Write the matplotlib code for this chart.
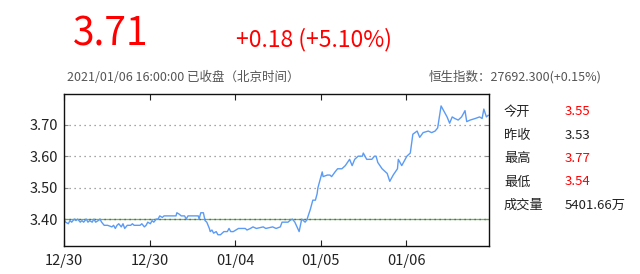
import numpy as np
import matplotlib
matplotlib.use('Agg')
import matplotlib.pyplot as plt

plt.rcParams['font.family'] = ['Noto Sans CJK SC', 'DejaVu Sans']

# price trace (t: 100 per trading day tick)
t = [0, 2, 5, 7, 9, 12, 14, 16, 19, 21, 23, 26, 28, 30, 33, 35, 37, 40, 42, 44,
     47, 51, 56, 58, 60, 62, 64, 67, 69, 71, 74, 78, 80, 82, 86, 89, 91, 94, 96, 98,
     101, 103, 105, 108, 110, 112, 115, 117, 131, 132, 135, 137, 141, 143, 145, 157, 158, 160, 163, 165,
     167, 170, 171, 173, 175, 178, 180, 183, 185, 187, 191, 193, 195, 198, 201, 204, 212, 214, 218, 221,
     225, 233, 236, 244, 248, 253, 255, 262, 264, 267, 270, 275, 278, 282, 284, 288, 291, 294, 296, 297,
     299, 302, 303, 308, 311, 313, 317, 320, 325, 329, 334, 337, 340, 344, 349, 350, 354, 360, 363, 365,
     367, 372, 378, 381, 385, 390, 391, 395, 401, 405, 408, 413, 416, 420, 426, 430, 434, 437, 441, 443,
     448, 451, 454, 457, 461, 465, 469, 471, 475, 481, 486, 489, 491, 494, 496]
price = [3.397, 3.39, 3.385, 3.395, 3.39, 3.40, 3.395, 3.40, 3.39, 3.395, 3.39, 3.40, 3.39, 3.395, 3.39, 3.40, 3.39, 3.395, 3.40, 3.39,
         3.38, 3.38, 3.375, 3.38, 3.37, 3.38, 3.385, 3.375, 3.385, 3.37, 3.38, 3.38, 3.385, 3.38, 3.38, 3.38, 3.385, 3.375, 3.38, 3.39,
         3.385, 3.395, 3.39, 3.40, 3.40, 3.41, 3.405, 3.41, 3.41, 3.42, 3.415, 3.41, 3.41, 3.40, 3.41, 3.41, 3.40, 3.42, 3.42, 3.395,
         3.39, 3.37, 3.36, 3.365, 3.355, 3.36, 3.35, 3.35, 3.355, 3.36, 3.36, 3.37, 3.36, 3.36, 3.365, 3.37, 3.37, 3.365, 3.37, 3.375,
         3.37, 3.375, 3.37, 3.375, 3.37, 3.375, 3.39, 3.39, 3.395, 3.40, 3.39, 3.36, 3.40, 3.39, 3.397, 3.43, 3.46, 3.46, 3.48, 3.50,
         3.52, 3.55, 3.535, 3.54, 3.54, 3.535, 3.55, 3.56, 3.56, 3.57, 3.59, 3.57, 3.59, 3.60, 3.60, 3.61, 3.59, 3.59, 3.60, 3.60,
         3.58, 3.56, 3.545, 3.52, 3.54, 3.56, 3.59, 3.57, 3.60, 3.61, 3.67, 3.68, 3.66, 3.675, 3.68, 3.675, 3.68, 3.69, 3.76, 3.75,
         3.725, 3.705, 3.725, 3.72, 3.715, 3.725, 3.745, 3.71, 3.715, 3.72, 3.725, 3.72, 3.75, 3.725, 3.73]

tick_pos = [0, 100, 200, 300, 400]
tick_labels = ['12/30', '12/30', '01/04', '01/05', '01/06']
y_ticks = [3.40, 3.50, 3.60, 3.70]
base_line = 3.40

stat_names = ['今开', '昨收', '最高', '最低', '成交量']
stat_values = ['3.55', '3.53', '3.77', '3.54', '5401.66万']
stat_colors = ['#ff0000', '#222222', '#ff0000', '#ff0000', '#222222']

fig = plt.figure(figsize=(6.4, 2.74), dpi=100)
ax = fig.add_axes([0.1, 0.102, 0.664, 0.555])

for y in y_ticks:
    ax.axhline(y, color='#888888', linestyle=(0, (1, 3)), linewidth=0.9, zorder=1)
ax.axhline(base_line, color='#66bb55', linewidth=0.9, zorder=1)
ax.axhline(base_line, color='#555555', linestyle=(0, (1, 3)), linewidth=0.9, zorder=1)
ax.plot(t, price, color='#5b9bf5', linewidth=1.0, zorder=2)

ax.set_xlim(0, 497)
ax.set_ylim(3.314, 3.798)
ax.set_xticks(tick_pos)
ax.set_xticklabels(tick_labels)
ax.set_yticks(y_ticks)
ax.set_yticklabels(['%.2f' % v for v in y_ticks])
ax.tick_params(axis='x', direction='in', length=4, top=True, labelsize=10.5, pad=6, colors='#222222')
ax.tick_params(axis='y', direction='in', length=3, right=True, labelsize=10.5, pad=4,
               color='#888888', labelcolor='#222222')
for s in ax.spines.values():
    s.set_linewidth(1.0)
    s.set_color('#111111')

# header
fig.text(73 / 640, 1 - 46 / 274, '3.71', color='#ff0000', fontsize=28, va='baseline', ha='left')
fig.text(236 / 640, 1 - 46 / 274, '+0.18 (+5.10%)', color='#ff0000', fontsize=16.5, va='baseline', ha='left')
fig.text(67 / 640, 1 - 77 / 274, '2021/01/06 16:00:00 已收盘（北京时间）', color='#555555', fontsize=9, va='center', ha='left')
fig.text(602 / 640, 1 - 77 / 274, '恒生指数：27692.300(+0.15%)', color='#555555', fontsize=9, va='center', ha='right')

for i in range(len(stat_names)):
    yy = 1 - (112 + i * 23.3) / 274
    fig.text(504 / 640, yy, stat_names[i], color='#222222', fontsize=9.5, va='center', ha='left')
    fig.text(565 / 640, yy, stat_values[i], color=stat_colors[i], fontsize=9.5, va='center', ha='left')

fig.savefig('out.png', dpi=100)
